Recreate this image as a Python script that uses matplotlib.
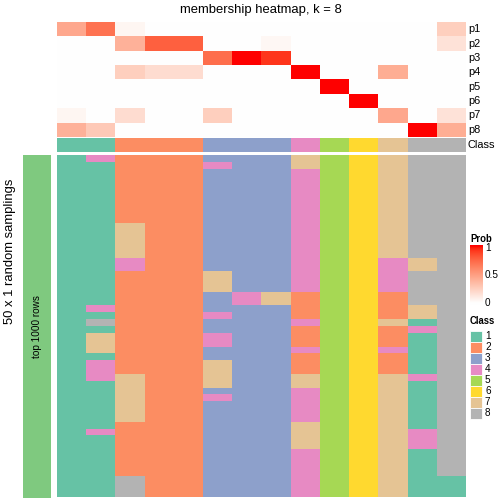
"""
Membership heatmap for k = 8: class probabilities per sample on top,
class assignment over 50 random samplings below.
"""

import numpy as np
import matplotlib
import matplotlib.pyplot as plt
from matplotlib.colors import ListedColormap
from matplotlib.patches import Rectangle

plt.rcParams['font.family'] = ['Liberation Sans', 'DejaVu Sans']

# membership probabilities p1..p8 for the 14 samples
prob_rows = ["p1", "p2", "p3", "p4", "p5", "p6", "p7", "p8"]
p1 = [0.45, 0.70, 0.05, 0, 0, 0, 0, 0, 0, 0, 0, 0, 0, 0.25]
p2 = [0, 0, 0.40, 0.78, 0.78, 0, 0, 0.04, 0, 0, 0, 0, 0, 0.15]
p3 = [0, 0, 0, 0, 0, 0.72, 1.00, 0.92, 0, 0, 0, 0, 0, 0]
p4 = [0, 0, 0.25, 0.18, 0.18, 0, 0, 0, 1.00, 0, 0, 0.42, 0, 0]
p5 = [0, 0, 0, 0, 0, 0, 0, 0, 0, 1.00, 0, 0, 0, 0]
p6 = [0, 0, 0, 0, 0, 0, 0, 0, 0, 0, 1.00, 0, 0, 0]
p7 = [0.05, 0, 0.18, 0, 0, 0.25, 0, 0, 0, 0, 0, 0.45, 0, 0.15]
p8 = [0.40, 0.28, 0, 0, 0, 0, 0, 0, 0, 0, 0, 0, 1.00, 0.42]

# final class of each sample
sample_class = [1, 1, 2, 2, 2, 3, 3, 3, 4, 5, 6, 7, 8, 8]

# class per sampling (50 rows, top to bottom), one string per sample
samplings = [
    "11111111111111111111111111111111111111111111111111",
    "41111111111111111111114181777144411111114111111111",
    "22222222227777744222222222222222777777722222222888",
    "22222222222222222222222222222222222222222222222222",
    "22222222222222222222222222222222222222222222222222",
    "34333333333333333777333433443377773433333333333333",
    "33333333333333333333443333333333333333333333333333",
    "33333333333333333333773333333333333333333333333333",
    "77444444444444444444222242224222774444477774444444",
    "55555555555555555555555555555555555555555555555555",
    "66666666666666666666666666666666666666666666666666",
    "77777777777777744444222272224222777777777777777777",
    "88888888888888877888887714111111411111114441111111",
    "88888888888888888888888888888888888888888888888111",
]

class_colors = ["#66C2A5", "#FC8D62", "#8DA0CB", "#E78AC3",
                "#A6D854", "#FFD92F", "#E5C494", "#B3B3B3"]
class_names = ["1", "2", "3", "4", "5", "6", "7", "8"]
prob_ticks = [1, 0.5, 0]
prob_tick_labels = ["1", "0.5", "0"]


def lab_to_rgb(L, a, b):
    fy = (L + 16) / 116
    fx = fy + a / 500
    fz = fy - b / 200

    def finv(t):
        return np.where(t > 6 / 29, t ** 3, 3 * (6 / 29) ** 2 * (t - 4 / 29))

    xyz = np.stack([0.95047 * finv(fx), finv(fy), 1.08883 * finv(fz)])
    m = np.array([[3.2406, -1.5372, -0.4986],
                  [-0.9689, 1.8758, 0.0415],
                  [0.0557, -0.2040, 1.0570]])
    rgb = np.clip(m @ xyz, 0, 1)
    rgb = np.where(rgb <= 0.0031308, 12.92 * rgb, 1.055 * rgb ** (1 / 2.4) - 0.055)
    return np.clip(rgb.T, 0, 1)


# white -> red ramp interpolated in LAB like colorRamp2
t = np.linspace(0, 1, 256)
prob_cmap = ListedColormap(lab_to_rgb(100 - t * (100 - 53.24), t * 80.09, t * 67.20))
class_cmap = ListedColormap(class_colors)

W = 504.0
fig = plt.figure(figsize=(7, 7), dpi=72)


def px_axes(x0, y0, x1, y1):
    ax = fig.add_axes([x0 / W, 1 - y1 / W, (x1 - x0) / W, (y1 - y0) / W])
    ax.set_axis_off()
    return ax


hx0, hx1 = 56.7, 465.0

# probability heatmap
prob = np.array([p1, p2, p3, p4, p5, p6, p7, p8])
ax = px_axes(hx0, 22.3, hx1, 136.7)
ax.imshow(prob, cmap=prob_cmap, vmin=0, vmax=1, aspect='auto', interpolation='nearest')

# class annotation row
ax = px_axes(hx0, 138.0, hx1, 152.3)
ax.imshow(np.array([sample_class]), cmap=class_cmap, vmin=0.5, vmax=8.5,
          aspect='auto', interpolation='nearest')

# sampling heatmap
grid = np.array([[int(ch) for ch in col] for col in samplings]).T
ax = px_axes(hx0, 155.0, hx1, 497.0)
ax.imshow(grid, cmap=class_cmap, vmin=0.5, vmax=8.5, aspect='auto', interpolation='nearest')

# overlay for labels and legends
ov = fig.add_axes([0, 0, 1, 1])
ov.set_xlim(0, W)
ov.set_ylim(W, 0)
ov.set_axis_off()

ov.text((hx0 + hx1) / 2, 10, "membership heatmap, k = 8", fontsize=13,
        ha='center', va='center')

row_h = (136.7 - 22.3) / len(prob_rows)
for i, name in enumerate(prob_rows):
    ov.text(468, 22.3 + row_h * (i + 0.5), name, fontsize=11, ha='left', va='center')
ov.text(468, 145.2, "Class", fontsize=11, ha='left', va='center')

# left split bar
ov.add_patch(Rectangle((22.7, 155), 28.3, 343, color="#7FC97F", lw=0))
ov.text(37, 327, "top 1000 rows", fontsize=10, rotation=90, ha='center', va='center')
ov.text(10, 251, "50 x 1 random samplings", fontsize=13, rotation=90,
        ha='center', va='center')

# probability legend: value v sits at y0 - span * v
y0, span = 303.3, 56.6
ov.text(470, 238.5, "Prob", fontsize=9.5, fontweight='bold', ha='left', va='center')
cb = px_axes(470, 245, 483, 305)
ys = np.linspace(245, 305, 120)
cb.imshow(np.clip((y0 - ys) / span, 0, 1)[:, None], cmap=prob_cmap, vmin=0, vmax=1,
          aspect='auto', interpolation='bilinear')
for v, lab in zip(prob_ticks, prob_tick_labels):
    y = y0 - span * v
    ov.plot([470, 472], [y, y], color='white', lw=0.8, alpha=0.8)
    ov.plot([481, 483], [y, y], color='white', lw=0.8, alpha=0.8)
    ov.text(485, y + (1.5 if v == 1 else 0), lab, fontsize=10, ha='left', va='center')

# class legend
ov.text(470, 320.5, "Class", fontsize=9.5, fontweight='bold', ha='left', va='center')
for i, (c, name) in enumerate(zip(class_colors, class_names)):
    y = 330.7 + 11 * i
    ov.add_patch(Rectangle((470, y), 12, 11, facecolor=c, edgecolor='white', lw=0.8))
    ov.text(485, y + 5.5, name, fontsize=10, ha='left', va='center')

fig.savefig("out.png", dpi=72)
